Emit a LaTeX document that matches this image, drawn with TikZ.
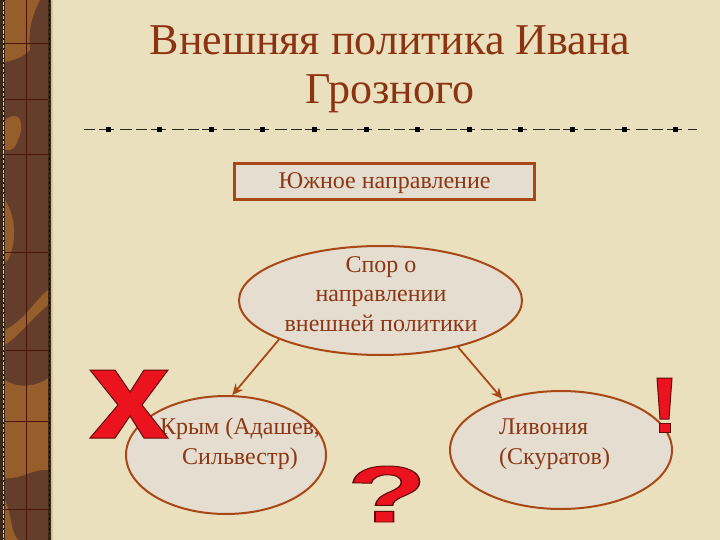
\documentclass[tikz,border=0pt]{standalone}
\usepackage{graphicx}
\usepackage{fontspec}
\setmainfont{Liberation Serif}
\newfontfamily\symfont{Liberation Sans}
\usetikzlibrary{arrows.meta,shapes.geometric}
\definecolor{bgc}{RGB}{234,224,189}
\definecolor{titlec}{RGB}{140,52,18}
\definecolor{brd}{RGB}{168,72,22}
\definecolor{fillc}{RGB}{229,221,207}
\definecolor{txtc}{RGB}{140,55,20}
\definecolor{stripe}{RGB}{150,94,42}
\definecolor{stripedark}{RGB}{100,62,42}
\definecolor{stripeline}{RGB}{75,18,10}
\definecolor{beadc}{RGB}{210,196,158}
\definecolor{edgec}{RGB}{60,40,25}
\definecolor{redc}{RGB}{235,20,30}
\definecolor{redo}{RGB}{100,10,10}
\newcommand\qmk{\resizebox{80pt}{56pt}{\symfont\bfseries\special{pdf:literal 2 Tr 0.39 0.04 0.04 RG 0.12 w}?\special{pdf:literal 0 Tr}}}
\begin{document}
\begin{tikzpicture}[x=1pt,y=-1pt,
  ellbox/.style={ellipse,draw=brd,fill=fillc,line width=2pt,inner sep=0pt},
  rectbox/.style={rectangle,draw=brd,fill=fillc,line width=2.5pt,inner sep=0pt},
  body/.style={text=txtc,font=\fontsize{24}{29.5}\selectfont,inner sep=0pt},
  ttl/.style={text=titlec,font=\fontsize{44}{49}\selectfont,inner sep=0pt,anchor=base},
  arr/.style={draw=brd,line width=1.8pt,-{Stealth[open,length=11pt,width=10pt]}},
  sepline/.style={draw=black!85,line width=1pt,dash pattern=on 12pt off 4pt on 11pt off 3.5pt on 15.1pt off 6pt,dash phase=15.6pt},
  sq/.style={fill=black,inner sep=0pt,minimum width=5pt,minimum height=5.5pt},
  redmark/.style={fill=redc,draw=redo,line width=1pt,line join=miter},
  qm/.style={inner sep=0pt}
]
\useasboundingbox (0,0) rectangle (720,540);
\fill[bgc] (0,0) rectangle (720,540);

% left decorative stripe
\fill[stripedark] (0,0) rectangle (52,540);
\fill[stripe] (5,0) -- (40,0) .. controls (32,15) and (28,30) .. (30,50) .. controls (22,58) and (14,60) .. (5,62) -- cycle;
\fill[stripe] (5,120) .. controls (18,110) and (24,120) .. (20,135) .. controls (14,150) .. (5,150) -- cycle;
\fill[stripe] (5,200) .. controls (15,215) and (18,240) .. (8,260) -- (5,262) -- cycle;
\fill[stripe] (5,330) .. controls (25,320) and (35,300) .. (48,290) -- (48,305) .. controls (30,320) and (20,335) .. (5,345) -- cycle;
\fill[stripe] (5,380) .. controls (20,390) and (40,385) .. (48,378) -- (48,470) .. controls (35,468) and (20,480) .. (5,478) -- cycle;
\fill[stripe] (5,500) .. controls (12,515) and (10,530) .. (18,540) -- (5,540) -- cycle;
\draw[stripeline,line width=0.8pt] (26,0) -- (26,540);
\foreach \yy in {43,99,154,252,350,421,509}
  \draw[stripeline,line width=0.8pt] (5,\yy) -- (48,\yy);
\fill[edgec] (0,0) rectangle (5,540);
\draw[beadc,line width=1.3pt] (3.5,0) -- (3.5,540);
\draw[black,line width=1.6pt,dash pattern=on 1.6pt off 3.2pt] (3.5,0) -- (3.5,540);
\fill[edgec] (47.5,0) rectangle (51,540);
\draw[beadc,line width=1.3pt] (52,0) -- (52,540);
\draw[black,line width=1.6pt,dash pattern=on 1.6pt off 3.2pt] (49.3,0) -- (49.3,540);

% title
\node[ttl] (t1) at (390,55) {Внешняя политика Ивана};
\node[ttl] (t2) at (390,104) {Грозного};

% separator
\coordinate (sepL) at (84,129.5);
\coordinate (sepR) at (697,129.5);
\draw[sepline] (sepL) -- (sepR);
\foreach \i in {0,...,11}
  \node[sq] (sq\i) at ({108+51.6*\i},129.5) {};

% box
\node[rectbox,minimum width=300pt,minimum height=36pt] (south) at (384.5,181.3) {};
\node[body,anchor=base] (southtxt) at (384.5,189) {Южное направление};

% ellipses
\node[ellbox,minimum width=283pt,minimum height=109pt] (top) at (380.5,300.5) {};
\node[body,anchor=base,align=center] (toptxt) at (381,331) {Спор о\\направлении\\внешней политики};
\node[ellbox,minimum width=200pt,minimum height=118pt] (left) at (226,455) {};
\node[body,anchor=base,align=center] (lefttxt) at (240,464) {Крым (Адашев,\\Сильвестр)};
\node[ellbox,minimum width=222pt,minimum height=118pt] (right) at (561,450) {};
\node[body,anchor=base west,align=left] (righttxt) at (499,464) {Ливония\\(Скуратов)};

% arrows
\draw[arr] (top.201) -- (left.84);
\draw[arr] (top.329) -- (right.139);

% red marks
\draw[redmark] (90,370) -- (115,370) -- (130,392) -- (144,370) -- (168,370) -- (142,405) -- (168,438)
  -- (144,438) -- (130,416) -- (115,438) -- (90,438) -- (118,405) -- cycle;
\draw[redmark] (657,378) -- (672,378) -- (669,419) -- (660,419) -- cycle;
\draw[redmark] (659.5,423) rectangle (670.5,432);
\node[qm,text=redc] (qmark) at (387,494) {\qmk};
\end{tikzpicture}
\end{document}
